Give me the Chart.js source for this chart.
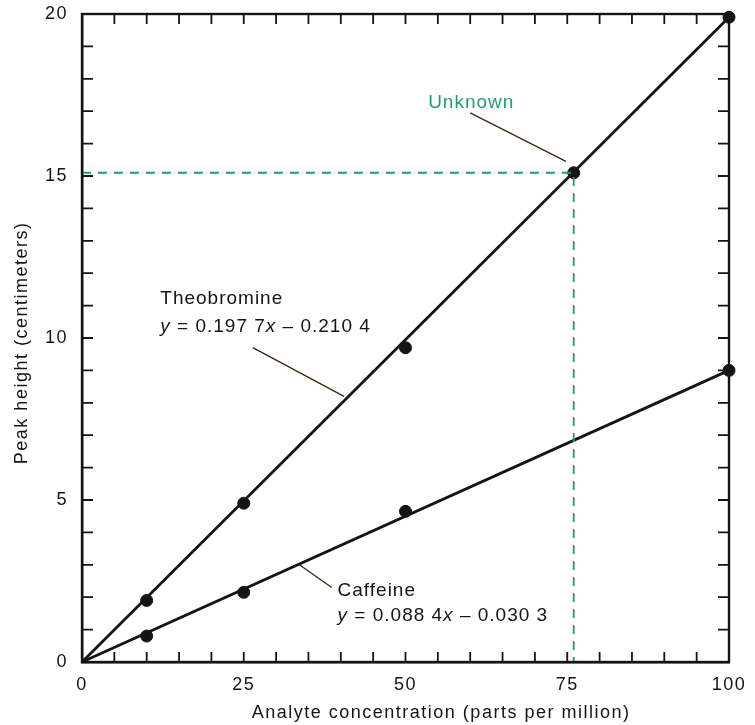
<!DOCTYPE html>
<html>
<head>
<meta charset="utf-8">
<script src="https://cdn.jsdelivr.net/npm/chart.js@4"></script>
<style>
  html, body { margin: 0; padding: 0; background: #fff; }
  #wrap { width: 755px; height: 725px; }
</style>
</head>
<body>
<div id="wrap"><canvas id="chart" width="755" height="725"></canvas></div>
<script>
// values
const concentration = [10, 25, 50, 100];
const theobromine = [1.9, 4.9, 9.7, 19.9];
const caffeine = [0.8, 2.15, 4.65, 9.0];
const fitX = [0, 100];
const theobromineFit = [0, 19.9];
const caffeineFit = [0, 9.0];
const unknownX = [76];
const unknownY = [15.1];
const xTickLabels = [0, 25, 50, 75, 100];
const yTickLabels = [0, 5, 10, 15, 20];
const xTitle = 'Analyte concentration (parts per million)';
const yTitle = 'Peak height (centimeters)';

const INK = '#141414';
const GREEN = '#1f9e74';
const FONT = '"Liberation Sans", Arial, sans-serif';

const toPoints = (xs, ys) => xs.map((x, i) => ({ x: x, y: ys[i] }));

// text labels and their leader lines, placed in data units
const notes = [
    { x: 53.5, y: 17.25, color: GREEN, runs: [['Unknown', false]] },
    { x: 12.1, y: 11.2, color: INK, runs: [['Theobromine', false]] },
    { x: 12.1, y: 10.35, color: INK, runs: [['y', true], [' = 0.197 7', false], ['x', true], [' \u2013 0.210 4', false]] },
    { x: 39.5, y: 2.2, color: INK, runs: [['Caffeine', false]] },
    { x: 39.5, y: 1.42, color: INK, runs: [['y', true], [' = 0.088 4', false], ['x', true], [' \u2013 0.030 3', false]] }
];
const leaders = [
    [60.0, 16.95, 74.8, 15.45],
    [26.4, 9.7, 40.5, 8.2],
    [33.6, 3.0, 38.6, 2.3]
];

const decorations = {
    id: 'decorations',
    afterDraw(chart) {
        const { ctx, chartArea: a } = chart;
        const xs = chart.scales.x, ys = chart.scales.y;
        ctx.save();
        ctx.strokeStyle = INK;
        ctx.lineWidth = 1.8;
        ctx.beginPath();
        for (let v = 5; v < 100; v += 5) {
            const px = xs.getPixelForValue(v);
            ctx.moveTo(px, a.bottom); ctx.lineTo(px, a.bottom - 10);
            ctx.moveTo(px, a.top); ctx.lineTo(px, a.top + 10);
        }
        for (let v = 1; v < 20; v++) {
            const py = ys.getPixelForValue(v);
            ctx.moveTo(a.left, py); ctx.lineTo(a.left + 11, py);
            ctx.moveTo(a.right, py); ctx.lineTo(a.right - 11, py);
        }
        ctx.stroke();

        ctx.lineWidth = 1.4;
        ctx.strokeStyle = '#3a2a1a';
        ctx.beginPath();
        leaders.forEach(l => {
            ctx.moveTo(xs.getPixelForValue(l[0]), ys.getPixelForValue(l[1]));
            ctx.lineTo(xs.getPixelForValue(l[2]), ys.getPixelForValue(l[3]));
        });
        ctx.stroke();

        ctx.textBaseline = 'middle';
        ctx.textAlign = 'left';
        ctx.letterSpacing = '1px';
        notes.forEach(n => {
            let px = xs.getPixelForValue(n.x);
            const py = ys.getPixelForValue(n.y);
            ctx.fillStyle = n.color;
            n.runs.forEach(r => {
                ctx.font = (r[1] ? 'italic ' : '') + '19px ' + FONT;
                ctx.fillText(r[0], px, py);
                px += ctx.measureText(r[0]).width;
            });
        });

        // axis titles
        ctx.letterSpacing = '1.5px';
        ctx.font = '18px ' + FONT;
        ctx.fillStyle = INK;
        ctx.textAlign = 'center';
        ctx.fillText(xTitle, xs.getPixelForValue(55.5), 713);
        ctx.translate(22, ys.getPixelForValue(9.85));
        ctx.rotate(-Math.PI / 2);
        ctx.fillText(yTitle, 0, 0);
        ctx.restore();
    }
};

const lineSet = (ys) => ({
    data: toPoints(fitX, ys),
    showLine: true,
    borderColor: INK,
    borderWidth: 2.8,
    pointRadius: 0,
    clip: false
});

const dotSet = (xs, ys) => ({
    data: toPoints(xs, ys),
    showLine: false,
    pointRadius: 6,
    pointBackgroundColor: INK,
    pointBorderColor: INK,
    clip: false
});

new Chart(document.getElementById('chart'), {
    type: 'scatter',
    data: {
        datasets: [
            {
                data: [{ x: 0, y: unknownY[0] }, { x: unknownX[0], y: unknownY[0] }, { x: unknownX[0], y: 0 }],
                showLine: true,
                borderColor: GREEN,
                borderWidth: 1.8,
                borderDash: [9, 7],
                pointRadius: 0,
                clip: false
            },
            lineSet(theobromineFit),
            lineSet(caffeineFit),
            dotSet(concentration, theobromine),
            dotSet(concentration, caffeine),
            dotSet(unknownX, unknownY)
        ]
    },
    options: {
        responsive: false,
        animation: false,
        layout: { padding: { top: 14, right: 26, left: 0, bottom: 0 } },
        plugins: {
            legend: { display: false },
            tooltip: { enabled: false }
        },
        scales: {
            x: {
                type: 'linear',
                min: 0,
                max: 100,
                afterFit: s => { s.height = 63; s.paddingLeft = 0; s.paddingRight = 0; },
                afterBuildTicks: s => { s.ticks = xTickLabels.map(v => ({ value: v })); },
                grid: { display: false, drawTicks: false },
                border: { display: true, color: INK, width: 2.4 },
                ticks: {
                    padding: 12,
                    color: INK,
                    font: { family: FONT, size: 18 }
                }
            },
            y: {
                type: 'linear',
                min: 0,
                max: 20,
                afterFit: s => { s.width = 82; s.paddingTop = 0; s.paddingBottom = 0; },
                afterBuildTicks: s => { s.ticks = yTickLabels.map(v => ({ value: v })); },
                grid: { display: false, drawTicks: false },
                border: { display: true, color: INK, width: 2.4 },
                ticks: {
                    padding: 14,
                    color: INK,
                    font: { family: FONT, size: 18 }
                }
            }
        }
    },
    plugins: [{
        id: 'spacing',
        beforeDraw(chart) { chart.ctx.letterSpacing = '1.5px'; }
    }, decorations, {
        id: 'frame',
        afterDraw(chart) {
            const { ctx, chartArea: a } = chart;
            ctx.save();
            ctx.strokeStyle = INK;
            ctx.lineWidth = 2.4;
            ctx.strokeRect(a.left, a.top, a.right - a.left, a.bottom - a.top);
            ctx.restore();
        }
    }]
});
</script>
</body>
</html>
